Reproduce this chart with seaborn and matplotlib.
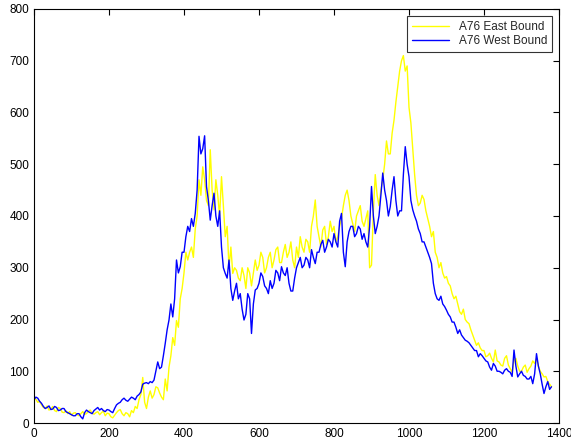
import numpy as np
import pandas as pd
import matplotlib
matplotlib.use("Agg")
import matplotlib.pyplot as plt
import seaborn as sns

# counts sampled every 5 time units, 0..1380
east = [50, 46, 40, 42, 35, 30, 28, 33, 25, 27, 32, 24, 22, 30, 28, 21, 20, 24, 18, 22,
        15, 19, 20, 16, 14, 18, 22, 17, 18, 23, 25, 19, 17, 20, 22, 16, 20, 23, 14, 19,
        18, 12, 10, 15, 20, 24, 26, 18, 14, 20, 18, 12, 24, 20, 32, 28, 45, 55, 88, 40,
        28, 50, 62, 48, 55, 70, 68, 58, 50, 45, 85, 62, 108, 130, 165, 150, 198, 185, 240, 260,
        290, 330, 315, 330, 340, 320, 375, 400, 470, 440, 495, 470, 430, 420, 528, 450, 412, 470, 440, 400,
        476, 420, 360, 380, 300, 340, 289, 300, 295, 280, 275, 300, 285, 260, 300, 290, 265, 290, 315, 295,
        305, 330, 320, 290, 300, 320, 330, 300, 315, 335, 340, 310, 310, 330, 345, 320, 330, 350, 315, 300,
        340, 320, 360, 340, 330, 355, 350, 330, 380, 400, 431, 380, 360, 340, 373, 380, 345, 360, 390, 370,
        380, 350, 360, 380, 395, 420, 440, 450, 430, 400, 385, 370, 400, 410, 420, 390, 380, 395, 410, 300,
        305, 410, 480, 440, 420, 450, 470, 500, 545, 520, 520, 560, 585, 620, 650, 680, 700, 710, 680, 690,
        610, 580, 530, 480, 440, 420, 425, 440, 432, 410, 395, 380, 360, 370, 330, 320, 300, 310, 290, 280,
        283, 270, 265, 250, 240, 245, 230, 215, 210, 220, 200, 195, 192, 180, 170, 160, 150, 155, 145, 140,
        140, 128, 130, 135, 125, 118, 141, 120, 118, 112, 110, 125, 130, 112, 105, 98, 121, 125, 110, 100,
        100, 108, 112, 98, 105, 110, 120, 115, 125, 110, 100, 95, 89, 90, 80, 75, 70]

west = [45, 50, 48, 42, 38, 32, 28, 30, 33, 26, 27, 32, 30, 24, 25, 28, 28, 22, 20, 18,
        16, 14, 14, 18, 18, 12, 8, 20, 25, 22, 20, 18, 24, 27, 30, 25, 28, 24, 22, 26,
        25, 22, 20, 28, 35, 38, 40, 45, 48, 44, 42, 46, 50, 48, 45, 52, 55, 60, 75, 77,
        78, 76, 80, 78, 83, 100, 118, 105, 108, 130, 154, 180, 199, 230, 205, 240, 315, 290, 302, 330,
        330, 360, 380, 370, 395, 380, 405, 450, 554, 520, 530, 555, 457, 430, 392, 420, 444, 400, 380, 410,
        340, 300, 289, 280, 315, 260, 237, 255, 270, 240, 250, 220, 199, 210, 250, 240, 173, 230, 257, 260,
        270, 290, 283, 265, 260, 250, 275, 260, 270, 295, 290, 275, 302, 290, 285, 300, 270, 255, 255, 280,
        300, 310, 320, 300, 305, 320, 315, 300, 335, 320, 308, 330, 330, 345, 353, 330, 340, 355, 350, 340,
        366, 350, 340, 390, 405, 330, 302, 350, 370, 380, 380, 360, 366, 380, 375, 355, 366, 350, 340, 380,
        457, 400, 366, 380, 400, 440, 483, 450, 430, 400, 418, 450, 476, 430, 400, 410, 410, 480, 534, 500,
        476, 430, 412, 400, 390, 375, 366, 350, 350, 340, 330, 320, 308, 270, 250, 240, 237, 245, 230, 225,
        218, 210, 205, 195, 195, 185, 173, 180, 170, 165, 160, 158, 155, 150, 145, 140, 140, 128, 134, 130,
        125, 120, 118, 108, 102, 115, 110, 100, 100, 98, 95, 102, 105, 100, 98, 90, 141, 110, 89, 95,
        100, 92, 90, 85, 85, 90, 76, 95, 134, 110, 95, 75, 57, 70, 80, 65, 70]

labels = ["A76 East Bound", "A76 West Bound"]

df = pd.concat([
    pd.DataFrame({"x": np.arange(len(east)) * 5, "count": east, "road": labels[0]}),
    pd.DataFrame({"x": np.arange(len(west)) * 5, "count": west, "road": labels[1]}),
])

sns.set_style("white")
plt.rcParams["font.family"] = ["Liberation Sans", "DejaVu Sans"]

fig = plt.figure(figsize=(5.71, 4.41), dpi=100)
ax = fig.add_axes([34 / 571, 18 / 441, 525 / 571, 414 / 441])

sns.lineplot(data=df, x="x", y="count", hue="road", hue_order=labels,
             palette=["#ffff00", "#0000ff"], linewidth=1, ax=ax)

ax.set_xlim(0, 1400)
ax.set_ylim(0, 800)
ax.set_xticks(range(0, 1401, 200))
ax.set_yticks(range(0, 801, 100))
ax.set_xlabel("")
ax.set_ylabel("")
ax.tick_params(direction="in", top=True, right=True, length=4,
               labelsize=8.5, colors="black", width=0.8)
for s in ax.spines.values():
    s.set_color("black")
    s.set_linewidth(0.8)

leg = ax.legend(loc="upper right", fontsize=8.5, frameon=True, fancybox=False,
                borderaxespad=0.6, handlelength=3.2, labelspacing=0.2)
leg.get_frame().set_edgecolor("black")
leg.get_frame().set_linewidth(0.8)

fig.savefig("out.png", dpi=100)
